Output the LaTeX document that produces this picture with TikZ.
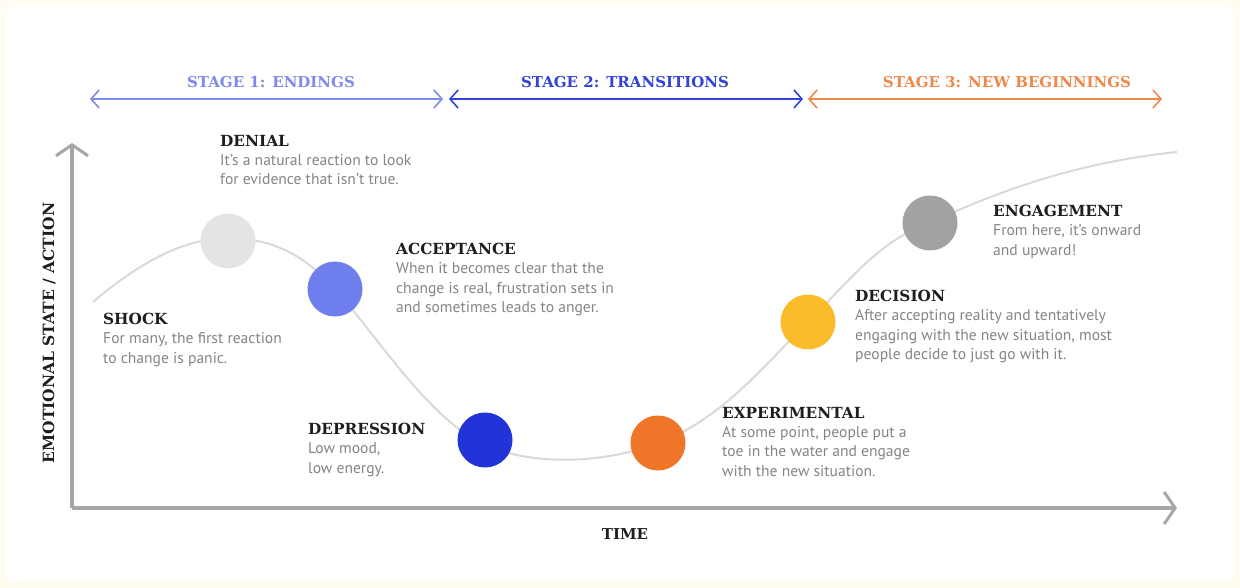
\documentclass[tikz,border=0pt]{standalone}
\usepackage{fontspec}
\setmainfont{PT Sans}
\newfontfamily\hfont{DejaVu Serif}
\usetikzlibrary{arrows.meta}
\definecolor{cream}{HTML}{FFFCF1}
\definecolor{axisgray}{HTML}{A6A6A6}
\definecolor{curvegray}{HTML}{D9D9D9}
\definecolor{bodygray}{HTML}{858585}
\definecolor{titleblack}{HTML}{1E1E1E}
\definecolor{sone}{HTML}{7F8BEA}
\definecolor{stwo}{HTML}{3343D6}
\definecolor{sthree}{HTML}{F0884A}
\definecolor{cdenial}{HTML}{E4E4E4}
\definecolor{caccept}{HTML}{6F7FEE}
\definecolor{cdepress}{HTML}{2234D8}
\definecolor{cexper}{HTML}{EF7628}
\definecolor{cdecis}{HTML}{FBBC2B}
\definecolor{cengage}{HTML}{A2A2A2}
\tikzset{
  stagearrow/.style={line width=1.6pt,{Straight Barb[length=8pt,width=18pt,line width=1.6pt]}-{Straight Barb[length=8pt,width=18pt,line width=1.6pt]}},
  stagelabel/.style={font=\hfont\bfseries\fontsize{15}{17}\selectfont},
  axisline/.style={draw=axisgray,line width=3.5pt,-{Straight Barb[length=11pt,width=32pt,line width=3pt]}},
  dot/.style={circle,minimum size=55pt,inner sep=0pt,draw=none},
  lbl/.style={anchor=north west,align=left,inner sep=0pt,text=bodygray,font=\fontsize{15.6}{19.3}\selectfont},
}
\newcommand{\ttl}[1]{{\color{titleblack}\hfont\bfseries\fontsize{15.3}{19}\selectfont #1}}
\begin{document}
\begin{tikzpicture}[x=1pt,y=-1pt]
\useasboundingbox (0,0) rectangle (1240,588);
\fill[cream] (0,0) rectangle (1240,588);
\fill[white,rounded corners=8pt] (6,6) rectangle (1234,582);
% stage arrows
\coordinate (s1a) at (90,99); \coordinate (s1b) at (443,99);
\coordinate (s2a) at (449,99); \coordinate (s2b) at (803,99);
\coordinate (s3a) at (808,99); \coordinate (s3b) at (1162,99);
\draw[stagearrow,sone] (s1a) -- (s1b);
\draw[stagearrow,stwo] (s2a) -- (s2b);
\draw[stagearrow,sthree] (s3a) -- (s3b);
\node[stagelabel,text=sone] (st1) at (271,82) {STAGE 1: ENDINGS};
\node[stagelabel,text=stwo] (st2) at (625,82) {STAGE 2: TRANSITIONS};
\node[stagelabel,text=sthree] (st3) at (1007,82) {STAGE 3: NEW BEGINNINGS};
% axes
\coordinate (origin) at (72,508);
\coordinate (ytop) at (72,143);
\coordinate (xend) at (1177,508);
\draw[axisline] (origin) -- (ytop);
\draw[axisline] (origin) -- (xend);
\node[rotate=90,font=\hfont\bfseries\fontsize{15.5}{17}\selectfont,text=titleblack] (ylab) at (49,333) {EMOTIONAL STATE / ACTION};
\node[font=\hfont\bfseries\fontsize{15}{17}\selectfont,text=titleblack] (xlab) at (625,534) {TIME};
% curve
\coordinate (cstart) at (93,302);
\coordinate (cend) at (1177,152);
\draw[curvegray,line width=2pt]
  (cstart) .. controls (140,262) and (185,238) .. (228,238)
  .. controls (280,238) and (310,262) .. (335,289)
  .. controls (380,340) and (430,420) .. (485,445)
  .. controls (530,465) and (600,465) .. (658,443)
  .. controls (720,420) and (760,370) .. (808,322)
  .. controls (850,280) and (880,240) .. (930,223)
  .. controls (1000,190) and (1080,162) .. (cend);
% dots
\node[dot,fill=cdenial] (denial) at (228,241) {};
\node[dot,fill=caccept] (accept) at (335,289) {};
\node[dot,fill=cdepress] (depress) at (485,440) {};
\node[dot,fill=cexper] (exper) at (658,443) {};
\node[dot,fill=cdecis] (decis) at (808,322) {};
\node[dot,fill=cengage] (engage) at (930,223) {};
% labels
\node[lbl] (tdenial) at (220,135) {\ttl{DENIAL}\\It’s a natural reaction to look\\for evidence that isn’t true.};
\node[lbl] (tshock) at (103,313) {\ttl{SHOCK}\\For many, the first reaction\\to change is panic.};
\node[lbl] (taccept) at (396,243) {\ttl{ACCEPTANCE}\\When it becomes clear that the\\change is real, frustration sets in\\and sometimes leads to anger.};
\node[lbl] (tdepress) at (308,423) {\ttl{DEPRESSION}\\Low mood,\\low energy.};
\node[lbl] (texper) at (722,407) {\ttl{EXPERIMENTAL}\\At some point, people put a\\toe in the water and engage\\with the new situation.};
\node[lbl] (tdecis) at (855,290) {\ttl{DECISION}\\After accepting reality and tentatively\\engaging with the new situation, most\\people decide to just go with it.};
\node[lbl] (tengage) at (993,205) {\ttl{ENGAGEMENT}\\From here, it’s onward\\and upward!};
\end{tikzpicture}
\end{document}
